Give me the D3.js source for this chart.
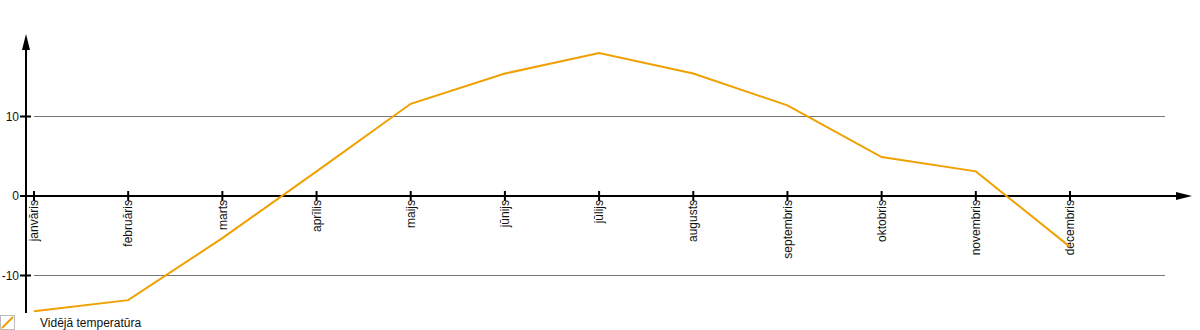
<!DOCTYPE html>
<html>
<head>
<meta charset="utf-8">
<script src="https://cdn.jsdelivr.net/npm/d3@7"></script>
<style>
  body { margin: 0; background: #fff; }
  text { font-family: "Liberation Sans", Arial, sans-serif; font-size: 12px; fill: #111; }
</style>
</head>
<body>
<div id="chart"></div>
<script>
// data
var months = ["janvāris", "februāris", "marts", "aprīlis", "maijs", "jūnijs",
              "jūlijs", "augusts", "septembris", "oktobris", "novembris", "decembris"];
var temps = [-14.5, -13.1, -5.3, 3.1, 11.6, 15.4, 18.0, 15.4, 11.4, 4.9, 3.1, -6.4];
var yTicks = [-10, 0, 10];
var seriesName = "Vidējā temperatūra";

var width = 1200, height = 330;

var svg = d3.select("#chart").append("svg")
    .attr("width", width)
    .attr("height", height);

// scales
var x = d3.scalePoint().domain(months).range([34, 1070]);
var y = d3.scaleLinear().domain([-10, 10]).range([275.5, 116.5]);

var axisX = 26;

// grid lines (not at zero)
svg.selectAll(".grid")
    .data(yTicks.filter(function(d) { return d !== 0; }))
  .enter().append("line")
    .attr("x1", 34).attr("x2", 1165)
    .attr("y1", function(d) { return y(d); })
    .attr("y2", function(d) { return y(d); })
    .style("stroke", "#777")
    .style("stroke-width", 1);

// y ticks and labels
svg.selectAll(".ytick")
    .data(yTicks)
  .enter().append("line")
    .attr("x1", 20).attr("x2", 31)
    .attr("y1", function(d) { return y(d); })
    .attr("y2", function(d) { return y(d); })
    .style("stroke", "#000").style("stroke-width", 2);

svg.selectAll(".ylab")
    .data(yTicks)
  .enter().append("text")
    .attr("x", 19)
    .attr("y", function(d) { return y(d); })
    .attr("dy", "0.35em")
    .attr("text-anchor", "end")
    .text(function(d) { return d; });

// x axis line with arrow
svg.append("line")
    .attr("x1", axisX).attr("x2", 1180)
    .attr("y1", y(0)).attr("y2", y(0))
    .style("stroke", "#000").style("stroke-width", 2);
svg.append("path")
    .attr("d", "M1192," + y(0) + "L1176," + (y(0) - 4) + "L1176," + (y(0) + 4) + "Z")
    .style("fill", "#000");

// y axis line with arrow
svg.append("line")
    .attr("x1", axisX).attr("x2", axisX)
    .attr("y1", 48).attr("y2", 313)
    .style("stroke", "#000").style("stroke-width", 2);
svg.append("path")
    .attr("d", "M" + axisX + ",34L" + (axisX - 4) + ",50L" + (axisX + 4) + ",50Z")
    .style("fill", "#000");

// x ticks and rotated labels
svg.selectAll(".xtick")
    .data(months)
  .enter().append("line")
    .attr("x1", function(d) { return x(d); })
    .attr("x2", function(d) { return x(d); })
    .attr("y1", y(0) - 5).attr("y2", y(0) + 5)
    .style("stroke", "#000").style("stroke-width", 2);

svg.selectAll(".xlab")
    .data(months)
  .enter().append("text")
    .attr("transform", function(d) { return "translate(" + x(d) + "," + (y(0) + 4) + ") rotate(-90)"; })
    .attr("dy", "0.35em")
    .attr("text-anchor", "end")
    .text(function(d) { return d; });

// the line
var line = d3.line()
    .x(function(d, i) { return x(months[i]); })
    .y(function(d) { return y(d); });

svg.append("path")
    .datum(temps)
    .attr("d", line)
    .style("fill", "none")
    .style("stroke", "#f0a000")
    .style("stroke-width", 2);

// legend
svg.append("rect")
    .attr("x", 0.5).attr("y", 315.5)
    .attr("width", 14).attr("height", 14)
    .style("fill", "#fff").style("stroke", "#bbb");
svg.append("line")
    .attr("x1", 2).attr("y1", 328).attr("x2", 13).attr("y2", 317)
    .style("stroke", "#f0a000").style("stroke-width", 2);
svg.append("text")
    .attr("x", 40).attr("y", 327)
    .text(seriesName);
</script>
</body>
</html>
